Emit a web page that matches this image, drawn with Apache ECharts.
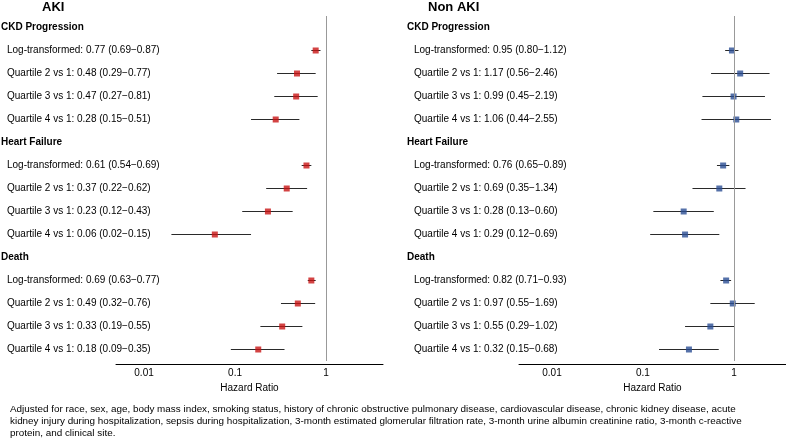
<!DOCTYPE html>
<html style="height: 100%">

<head>
    <meta charset="utf-8">
</head>

<body style="height: 100%; margin: 0">
    <div id="container" style="width: 786px; height: 438px"></div>
    <script src="https://cdn.jsdelivr.net/npm/echarts@6/dist/echarts.min.js"></script>
    <script>
        // outcome groups and rows inside each group
        const groups = ['CKD Progression', 'Heart Failure', 'Death'];
        const rowNames = ['Log-transformed', 'Quartile 2 vs 1', 'Quartile 3 vs 1', 'Quartile 4 vs 1'];

        // AKI: hazard ratio, lower and upper 95% CI (group by group)
        const akiHr = [0.77, 0.48, 0.47, 0.28, 0.61, 0.37, 0.23, 0.06, 0.69, 0.49, 0.33, 0.18];
        const akiLo = [0.69, 0.29, 0.27, 0.15, 0.54, 0.22, 0.12, 0.02, 0.63, 0.32, 0.19, 0.09];
        const akiHi = [0.87, 0.77, 0.81, 0.51, 0.69, 0.62, 0.43, 0.15, 0.77, 0.76, 0.55, 0.35];

        // Non AKI
        const nonHr = [0.95, 1.17, 0.99, 1.06, 0.76, 0.69, 0.28, 0.29, 0.82, 0.97, 0.55, 0.32];
        const nonLo = [0.80, 0.56, 0.45, 0.44, 0.65, 0.35, 0.13, 0.12, 0.71, 0.55, 0.29, 0.15];
        const nonHi = [1.12, 2.46, 2.19, 2.55, 0.89, 1.34, 0.60, 0.69, 0.93, 1.69, 1.02, 0.68];

        const footnote = 'Adjusted for race, sex, age, body mass index, smoking status, history of chronic obstructive pulmonary disease, cardiovascular disease, chronic kidney disease, acute\n' +
            'kidney injury during hospitalization, sepsis during hospitalization, 3-month estimated glomerular filtration rate, 3-month urine albumin creatinine ratio, 3-month c-reactive\n' +
            'protein, and clinical site.';

        const font = 'Liberation Sans, Arial, Helvetica, sans-serif';

        function buildRows(hr, lo, hi) {
            const cats = [];
            const points = [];
            const bars = [];
            groups.forEach((g, gi) => {
                cats.push('{h|' + g + '}');
                rowNames.forEach((r, ri) => {
                    const k = gi * 4 + ri;
                    const idx = cats.length;
                    cats.push('{i|' + r + ': ' + hr[k].toFixed(2) + ' (' + lo[k].toFixed(2) + '\u2212' + hi[k].toFixed(2) + ')}');
                    points.push([hr[k], idx]);
                    bars.push([lo[k], hi[k], idx]);
                });
            });
            return { cats, points, bars };
        }

        const aki = buildRows(akiHr, akiLo, akiHi);
        const non = buildRows(nonHr, nonLo, nonHi);

        function errorBar(params, api) {
            const a = api.coord([api.value(0), api.value(2)]);
            const b = api.coord([api.value(1), api.value(2)]);
            return {
                type: 'line',
                shape: { x1: a[0], y1: a[1], x2: b[0], y2: b[1] },
                style: { stroke: '#2a2a2a', lineWidth: 1 }
            };
        }

        function xAxisOf(gridIndex, min, max) {
            return {
                type: 'log',
                gridIndex: gridIndex,
                min: min,
                max: max,
                logBase: 10,
                offset: 3,
                name: 'Hazard Ratio',
                nameLocation: 'middle',
                nameGap: 19,
                nameTextStyle: { color: '#000', fontSize: 10, fontFamily: font },
                axisLine: { show: true, lineStyle: { color: '#000', width: 1 } },
                axisTick: { show: false },
                splitLine: { show: false },
                axisLabel: {
                    color: '#000', fontSize: 10, fontFamily: font, margin: 4,
                    showMinLabel: false, showMaxLabel: false
                }
            };
        }

        function yAxisOf(gridIndex, cats, margin, pad) {
            return {
                type: 'category',
                gridIndex: gridIndex,
                inverse: true,
                data: cats,
                axisLine: { show: false },
                axisTick: { show: false },
                splitLine: { show: false },
                axisLabel: {
                    interval: 0,
                    align: 'left',
                    margin: margin,
                    rich: {
                        h: { fontSize: 10, fontWeight: 'bold', color: '#000', fontFamily: font },
                        i: { fontSize: 10, color: '#000', fontFamily: font, padding: [0, 0, 0, pad] }
                    }
                }
            };
        }

        const dom = document.getElementById('container');
        const myChart = echarts.init(dom);

        const option = {
            animation: false,
            title: [
                {
                    text: 'AKI', left: 42, top: 1, padding: 0,
                    textStyle: { fontSize: 13, fontWeight: 'bold', color: '#000', fontFamily: font }
                },
                {
                    text: 'Non AKI', left: 428, top: 1, padding: 0,
                    textStyle: { fontSize: 13, fontWeight: 'bold', color: '#000', fontFamily: font }
                },
                {
                    text: footnote, left: 10, top: 403, padding: 0,
                    textStyle: { fontSize: 9.9, fontWeight: 'normal', color: '#000', fontFamily: font, lineHeight: 12 }
                }
            ],
            grid: [
                { left: 116, right: 403, top: 16, bottom: 77, outerBoundsMode: 'none', containLabel: false },
                { left: 519, right: 0, top: 16, bottom: 77, outerBoundsMode: 'none', containLabel: false }
            ],
            xAxis: [xAxisOf(0, 0.00492, 4.23), xAxisOf(1, 0.00434, 3.73)],
            yAxis: [yAxisOf(0, aki.cats, 115, 6), yAxisOf(1, non.cats, 112, 7)],
            series: [
                {
                    type: 'custom', xAxisIndex: 0, yAxisIndex: 0,
                    renderItem: errorBar, data: aki.bars, encode: { x: [0, 1], y: 2 }, z: 2
                },
                {
                    type: 'scatter', xAxisIndex: 0, yAxisIndex: 0,
                    symbol: 'rect', symbolSize: 6, itemStyle: { color: '#C81414' },
                    data: aki.points, z: 3,
                    markLine: {
                        silent: true, symbol: 'none', label: { show: false },
                        lineStyle: { color: '#999', type: 'solid', width: 1 },
                        data: [{ xAxis: 1 }]
                    }
                },
                {
                    type: 'custom', xAxisIndex: 1, yAxisIndex: 1,
                    renderItem: errorBar, data: non.bars, encode: { x: [0, 1], y: 2 }, z: 2
                },
                {
                    type: 'scatter', xAxisIndex: 1, yAxisIndex: 1,
                    symbol: 'rect', symbolSize: 6, itemStyle: { color: '#2B4E93' },
                    data: non.points, z: 3,
                    markLine: {
                        silent: true, symbol: 'none', label: { show: false },
                        lineStyle: { color: '#999', type: 'solid', width: 1 },
                        data: [{ xAxis: 1 }]
                    }
                }
            ]
        };

        myChart.setOption(option);
    </script>
</body>

</html>
